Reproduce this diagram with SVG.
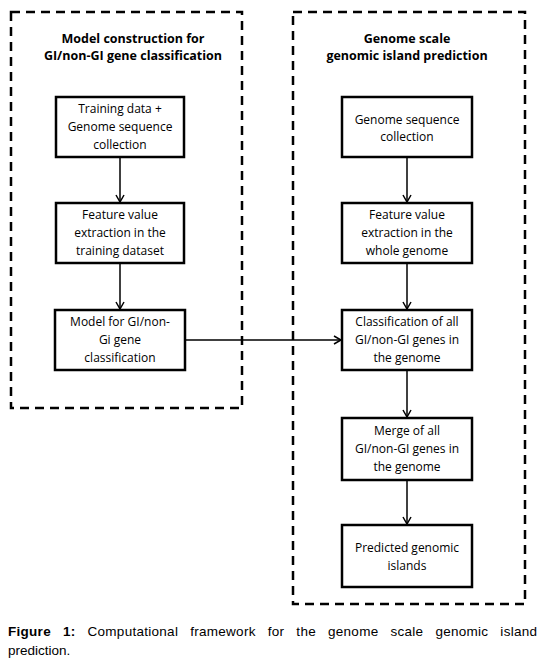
<svg xmlns="http://www.w3.org/2000/svg" width="548" height="664" viewBox="0 0 548 664">
<defs>
<style>
.frame{fill:none;stroke:#000;stroke-width:2.5;stroke-dasharray:9,6}
.box{fill:#fff;stroke:#000;stroke-width:2.5}
.t{font-family:"Open Sans","Noto Sans",sans-serif;font-size:12px;text-anchor:middle;fill:#000}
.h{font-family:"Open Sans","Noto Sans",sans-serif;font-size:12.5px;font-weight:bold;text-anchor:middle;fill:#000}
.cap{font-family:"Liberation Sans",Arial,sans-serif;font-size:13.5px;fill:#000}
.c{stroke:#000;stroke-width:1.5;fill:none;marker-end:url(#ah)}
</style>
<marker id="ah" markerWidth="10" markerHeight="10" refX="8" refY="5" orient="auto" markerUnits="userSpaceOnUse">
<path d="M1,1 L8,5 L1,9" fill="none" stroke="#000" stroke-width="1.5"/>
</marker>
</defs>
<rect width="548" height="664" fill="#fff"/>
<g id="frame-left">
<rect class="frame" x="11" y="12" width="231" height="396"/>
<text class="h" x="133" y="43">Model construction for</text>
<text class="h" x="133" y="60">GI/non-GI gene classification</text>
</g>
<g id="frame-right">
<rect class="frame" x="293" y="12" width="232" height="592"/>
<text class="h" x="407" y="43">Genome scale</text>
<text class="h" x="407" y="60">genomic island prediction</text>
</g>
<g id="connectors">
<line class="c" x1="120" y1="157" x2="120" y2="202"/>
<line class="c" x1="120" y1="263" x2="120" y2="309"/>
<line class="c" x1="185" y1="340" x2="341" y2="340"/>
<line class="c" x1="407" y1="157" x2="407" y2="202"/>
<line class="c" x1="407" y1="263" x2="407" y2="309"/>
<line class="c" x1="407" y1="370" x2="407" y2="417"/>
<line class="c" x1="407" y1="480" x2="407" y2="524"/>
</g>
<g id="n1">
<rect class="box" x="56" y="97" width="128" height="60"/>
<text class="t" x="120" y="113">Training data +</text>
<text class="t" x="120" y="131">Genome sequence</text>
<text class="t" x="120" y="149">collection</text>
</g>
<g id="n2">
<rect class="box" x="56" y="203" width="128" height="60"/>
<text class="t" x="120" y="219">Feature value</text>
<text class="t" x="120" y="237">extraction in the</text>
<text class="t" x="120" y="255">training dataset</text>
</g>
<g id="n3">
<rect class="box" x="55" y="310" width="130" height="60"/>
<text class="t" x="120" y="326">Model for GI/non-</text>
<text class="t" x="120" y="344">Gi gene</text>
<text class="t" x="120" y="362">classification</text>
</g>
<g id="n4">
<rect class="box" x="342" y="97" width="130" height="60"/>
<text class="t" x="407" y="124">Genome sequence</text>
<text class="t" x="407" y="141">collection</text>
</g>
<g id="n5">
<rect class="box" x="342" y="203" width="130" height="60"/>
<text class="t" x="407" y="219">Feature value</text>
<text class="t" x="407" y="237">extraction in the</text>
<text class="t" x="407" y="255">whole genome</text>
</g>
<g id="n6">
<rect class="box" x="342" y="310" width="130" height="60"/>
<text class="t" x="407" y="326">Classification of all</text>
<text class="t" x="407" y="344">GI/non-GI genes in</text>
<text class="t" x="407" y="362">the genome</text>
</g>
<g id="n7">
<rect class="box" x="342" y="418" width="130" height="62"/>
<text class="t" x="407" y="435">Merge of all</text>
<text class="t" x="407" y="453">GI/non-GI genes in</text>
<text class="t" x="407" y="471">the genome</text>
</g>
<g id="n8">
<rect class="box" x="342" y="525" width="130" height="62"/>
<text class="t" x="407" y="552">Predicted genomic</text>
<text class="t" x="407" y="570">islands</text>
</g>
<g id="caption">
<text class="cap" x="8" y="636" textLength="529" lengthAdjust="spacing" style="word-spacing:8px"><tspan font-weight="bold">Figure 1:</tspan> Computational framework for the genome scale genomic island</text>
<text class="cap" x="8" y="655">prediction.</text>
</g>
</svg>
